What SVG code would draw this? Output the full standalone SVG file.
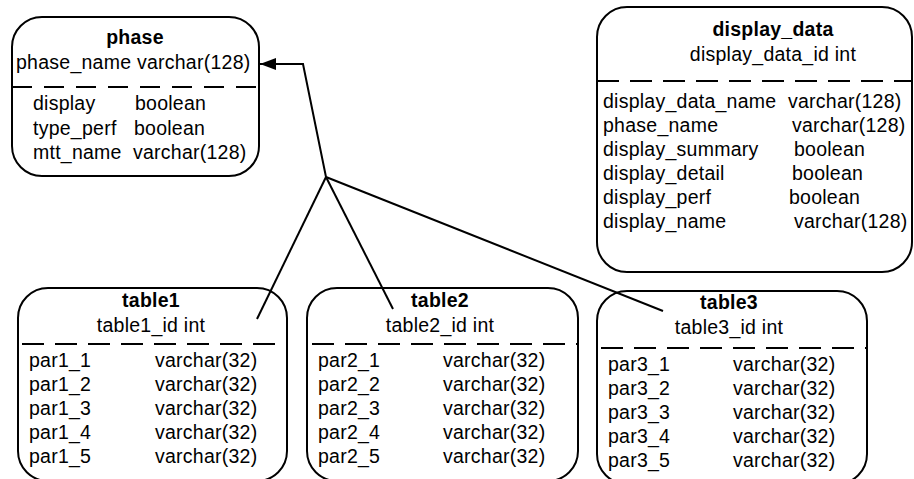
<svg xmlns="http://www.w3.org/2000/svg" width="914" height="479" viewBox="0 0 914 479">
<defs>
<style>
.box{fill:#fff;stroke:#000;stroke-width:2}
.dash{stroke:#000;stroke-width:2;stroke-dasharray:22 11;fill:none}
text{font-family:"Liberation Sans",Arial,sans-serif;font-size:19.5px;letter-spacing:0.25px;fill:#000}
.t{font-weight:bold;text-anchor:middle}
.c{text-anchor:middle}
.ln{stroke:#000;stroke-width:2;fill:none}
</style>
<marker id="arr" viewBox="0 0 16 12" refX="16" refY="6" markerWidth="16" markerHeight="12" markerUnits="userSpaceOnUse" orient="auto">
<path d="M0,0 L16,6 L0,12 Z" fill="#000"/>
</marker>
</defs>
<rect width="914" height="479" fill="#fff"/>

<g id="phase">
<rect class="box" x="12" y="17" width="247" height="159" rx="30" ry="30"/>
<text class="t" x="135" y="44">phase</text>
<text x="16" y="69">phase_name varchar(128)</text>
<line class="dash" x1="12" y1="87" x2="259" y2="87" style="stroke-dasharray:20 12"/>
<text x="33" y="110">display</text><text x="135" y="110">boolean</text>
<text x="33" y="135">type_perf</text><text x="134" y="135">boolean</text>
<text x="33" y="159">mtt_name</text><text x="133" y="159">varchar(128)</text>
</g>

<g id="display_data">
<rect class="box" x="597" y="7" width="315" height="265" rx="30" ry="30"/>
<text class="t" x="773" y="36">display_data</text>
<text class="c" x="773" y="61">display_data_id int</text>
<line class="dash" x1="597" y1="81" x2="912" y2="81"/>
<text x="603" y="108">display_data_name</text><text x="788" y="108">varchar(128)</text>
<text x="603" y="132">phase_name</text><text x="792" y="132">varchar(128)</text>
<text x="603" y="156">display_summary</text><text x="794" y="156">boolean</text>
<text x="603" y="180">display_detail</text><text x="792" y="180">boolean</text>
<text x="603" y="204">display_perf</text><text x="789" y="204">boolean</text>
<text x="603" y="228">display_name</text><text x="794" y="228">varchar(128)</text>
</g>

<g id="table1">
<rect class="box" x="18" y="288" width="269" height="193" rx="30" ry="30"/>
<text class="t" x="151" y="307">table1</text>
<text class="c" x="151" y="332">table1_id int</text>
<line class="dash" x1="22" y1="344" x2="287" y2="344"/>
<text x="29" y="367">par1_1</text><text x="155" y="367">varchar(32)</text>
<text x="29" y="391">par1_2</text><text x="155" y="391">varchar(32)</text>
<text x="29" y="415">par1_3</text><text x="155" y="415">varchar(32)</text>
<text x="29" y="439">par1_4</text><text x="155" y="439">varchar(32)</text>
<text x="29" y="463">par1_5</text><text x="155" y="463">varchar(32)</text>
</g>

<g id="table2">
<rect class="box" x="307" y="288" width="271" height="193" rx="30" ry="30"/>
<text class="t" x="440" y="307">table2</text>
<text class="c" x="440" y="332">table2_id int</text>
<line class="dash" x1="312" y1="344" x2="578" y2="344"/>
<text x="318" y="367">par2_1</text><text x="443" y="367">varchar(32)</text>
<text x="318" y="391">par2_2</text><text x="443" y="391">varchar(32)</text>
<text x="318" y="415">par2_3</text><text x="443" y="415">varchar(32)</text>
<text x="318" y="439">par2_4</text><text x="443" y="439">varchar(32)</text>
<text x="318" y="463">par2_5</text><text x="443" y="463">varchar(32)</text>
</g>

<g id="table3">
<rect class="box" x="597" y="291" width="270" height="193" rx="30" ry="30"/>
<text class="t" x="729" y="309">table3</text>
<text class="c" x="729" y="334">table3_id int</text>
<line class="dash" x1="601" y1="348" x2="867" y2="348"/>
<text x="608" y="371">par3_1</text><text x="733" y="371">varchar(32)</text>
<text x="608" y="395">par3_2</text><text x="733" y="395">varchar(32)</text>
<text x="608" y="419">par3_3</text><text x="733" y="419">varchar(32)</text>
<text x="608" y="443">par3_4</text><text x="733" y="443">varchar(32)</text>
<text x="608" y="467">par3_5</text><text x="733" y="467">varchar(32)</text>
</g>

<g id="connectors">
<polyline class="ln" points="326,177 303,64 260,64" marker-end="url(#arr)"/>
<line class="ln" x1="326" y1="177" x2="257" y2="319"/>
<line class="ln" x1="326" y1="177" x2="393" y2="309"/>
<line class="ln" x1="326" y1="177" x2="663" y2="311"/>
</g>
</svg>
